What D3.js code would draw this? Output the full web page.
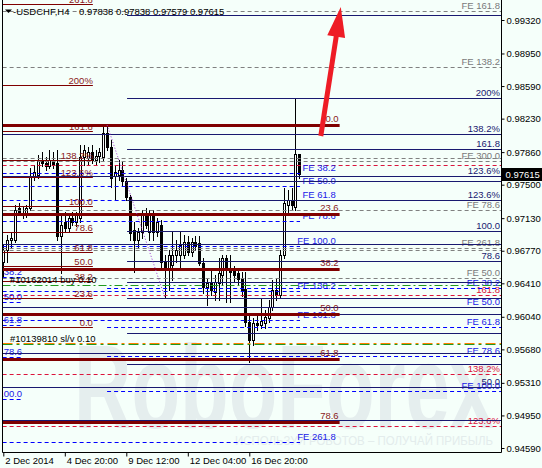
<!DOCTYPE html>
<html><head><meta charset="utf-8">
<script src="https://cdn.jsdelivr.net/npm/d3@7"></script>
<style>
body{margin:0;background:#F5FFFA;}
svg text{font-family:"Liberation Sans",Arial,sans-serif;font-size:9.5px;}
</style></head>
<body><svg id="c" width="542" height="468"></svg>
<script>
// ---------------- DATA ----------------
const symbolTitle = "-USDCHF,H4";
const titleValues = "0.97838 0.97838 0.97579 0.97615";
const lastPrice = 0.97615;
const yTicks = [0.99320,0.98950,0.98590,0.98230,0.97860,0.97500,0.97130,0.96770,0.96410,0.96040,0.95680,0.95310,0.94950,0.94590];
const xTickBars = [0,16,32,48,64];
const xTickLabels = ["2 Dec 2014","4 Dec 20:00","9 Dec 12:00","12 Dec 04:00","16 Dec 20:00"];

const opens = [0.96645,0.96778,0.96889,0.96889,0.97242,0.97187,0.97165,0.97242,0.97585,0.97607,
0.97773,0.97740,0.97707,0.97773,0.97740,0.96933,0.97088,0.97021,0.97132,0.97088,
0.97132,0.97806,0.97795,0.97861,0.97773,0.97817,0.97806,0.98071,0.97917,0.97596,
0.97607,0.97662,0.97541,0.97364,0.96999,0.96889,0.96977,0.97165,0.96977,0.97165,
0.96977,0.97055,0.96645,0.96557,0.96612,0.96723,0.96723,0.96723,0.96867,0.96756,
0.96867,0.96856,0.96634,0.96370,0.96414,0.96314,0.96414,0.96502,0.96690,0.96579,
0.96546,0.96524,0.96469,0.96347,0.95983,0.95784,0.95972,0.95949,0.95972,0.96027,
0.96148,0.96336,0.96281,0.96723,0.97276,0.97331,0.97253,0.97838];
const highs = [0.96834,0.96944,0.96977,0.97276,0.97298,0.97264,0.97276,0.97684,0.97718,0.97828,
0.97861,0.97806,0.97883,0.97861,0.97883,0.97165,0.97198,0.97165,0.97198,0.97198,
0.97939,0.97939,0.97917,0.97939,0.97883,0.97906,0.98149,0.98160,0.97994,0.97718,
0.97773,0.97751,0.97574,0.97386,0.97088,0.97021,0.97220,0.97242,0.97220,0.97220,
0.97132,0.97110,0.96723,0.96778,0.96977,0.96889,0.96977,0.96944,0.96933,0.96911,
0.96933,0.96933,0.96690,0.96469,0.96557,0.96502,0.96690,0.96723,0.96723,0.96723,
0.96601,0.96579,0.96535,0.96535,0.96060,0.96027,0.96060,0.96248,0.96115,0.96226,
0.96447,0.96469,0.96778,0.97463,0.97441,0.97463,0.98458,0.97838];
const lows = [0.96469,0.96645,0.96800,0.96867,0.97165,0.97132,0.97143,0.97220,0.97552,0.97574,
0.97707,0.97662,0.97684,0.97684,0.96889,0.96524,0.96977,0.96977,0.97055,0.97044,
0.97088,0.97718,0.97718,0.97740,0.97718,0.97751,0.97773,0.97883,0.97475,0.97331,
0.97552,0.97497,0.97331,0.96889,0.96535,0.96800,0.96911,0.97021,0.96889,0.96889,
0.96933,0.96579,0.96259,0.96336,0.96447,0.96645,0.96579,0.96690,0.96723,0.96712,
0.96778,0.96612,0.96303,0.96171,0.96281,0.96226,0.96226,0.96392,0.96204,0.96204,
0.96425,0.96392,0.96270,0.95938,0.95541,0.95728,0.95894,0.95916,0.95916,0.95983,
0.96115,0.96226,0.96248,0.96690,0.97198,0.97220,0.97220,0.97579];
const closes = [0.96778,0.96889,0.96911,0.97220,0.97187,0.97165,0.97242,0.97596,0.97640,0.97773,
0.97740,0.97707,0.97773,0.97718,0.96933,0.97055,0.97021,0.97132,0.97088,0.97165,
0.97806,0.97883,0.97861,0.97773,0.97817,0.97861,0.98071,0.97917,0.97574,0.97640,
0.97662,0.97541,0.97364,0.96966,0.96889,0.96977,0.97165,0.97055,0.97187,0.96977,
0.97088,0.96645,0.96579,0.96723,0.96723,0.96778,0.96834,0.96867,0.96756,0.96867,
0.96823,0.96634,0.96370,0.96414,0.96336,0.96425,0.96524,0.96690,0.96557,0.96535,
0.96502,0.96458,0.96336,0.95983,0.95784,0.95972,0.95949,0.95994,0.96038,0.96148,
0.96336,0.96281,0.96723,0.97298,0.97331,0.97276,0.97838,0.97615];

// Fibonacci retracement (thick dark red)
const retPrices = [0.98160,0.97176,0.96568,0.96071,0.95574,0.94878];
const retLabels = ["0.0","23.6","38.2","50.0","61.8","78.6"];
const retBars = [-2, 87.5];
// Fibonacci expansion (left, dark red)
const expPrices = [0.99500,0.98602,0.98093,0.97773,0.97585,0.97264,0.96977,0.96756,0.96601,0.96436,0.96248,0.95927];
const expLabels = ["261.8","200%","161.8","138.2%","123.6%","100.0","78.6","61.8","50.0","38.2","23.6","0.0"];
const expBars = [-2, 23.3];
// navy fibo set A
const navyAPrices = [0.98060,0.97596,0.96845,0.96148,0.95640,0.95264,0.94900];
const navyALabels = ["138.2%","123.6%","","","","50.0",""];
const navyABars = [-2, 140];
// navy fibo set B
const navyBPrices = [0.99375,0.98458,0.97894,0.97541,0.97331,0.96988,0.96657,0.96425,0.96248,0.96071,0.95861,0.95518];
const navyBLabels = ["","200%","161.8","","123.6%","100.0","78.6","","","","",""];
const navyBBars = [32.2, 140];
// blue FE set 1
const fe1Prices = [0.97629,0.97486,0.97331,0.97099,0.96823,0.96325,0.96005,0.94657];
const fe1Labels = ["FE 38.2","FE 50.0","FE 61.8","FE 78.6","FE 100.0","FE 138.2","FE 161.8","FE 261.8"];
const fe1Bars = [-2, 77.2, 86.5];
// blue FE set 2
const fe2Prices = [0.96358,0.96148,0.95927,0.95607,0.95220];
const fe2Labels = ["FE 38.2","FE 50.0","FE 61.8","FE 78.6","FE 100.0"];
const fe2Bars = [27, 140];
// blue short set (left edge)
const fe3Prices = [0.96480,0.96204,0.95949,0.95596,0.95132];
const fe3Labels = ["38.2","50.0","61.8","78.6","100.0"];
const fe3Bars = [-2, 4.9];
// gray FE
const grayPrices = [0.99419,0.98801,0.97795,0.97762,0.97220,0.96800,0.96778,0.96469,0.96148];
const grayLabels = ["FE 161.8","FE 138.2","","FE 300.0","FE 78.6","FE 261.8","","FE 50.0",""];
const grayBars = [-2, 140];
// crimson
const redPrices = [0.97718,0.96281,0.95408,0.94833];
const redLabels = ["","161.8","138.2%","123.6%"];
// order lines
const orderPrices = [0.96392,0.95740];
const orderLabels = ["#10162014 buy 0.10","#10139810 sl/v 0.10"];
// zigzag and arrow [bar, price]
const zigzag = [[27,0.98160],[42,0.96259]];
const arrowPts = [[82.6,0.98038],[87.8,0.99464]];

// ---------------- LAYOUT ----------------
const L = 2.5, R = 501.5, B = 452.5;
const svg = d3.select("#c");
const y = d3.scaleLinear().domain([0.9932,0.9459]).range([20,448]);
const x = d3.scaleLinear().domain([0,64]).range([3.3,249.3]);

svg.append("rect").attr("width",542).attr("height",468).attr("fill","#F5FFFA");
svg.append("defs").append("clipPath").attr("id","pc")
  .append("rect").attr("x",3).attr("y",0).attr("width",498).attr("height",452);
const g = svg.append("g").attr("clip-path","url(#pc)");

// watermark
g.append("text").attr("x",74).attr("y",428).attr("font-weight","bold")
  .style("font-size","118px").attr("textLength",420).attr("lengthAdjust","spacingAndGlyphs")
  .attr("fill","#e5eeee").text("RoboForex");
g.append("text").attr("x",235).attr("y",445).style("font-size","12px")
  .attr("textLength",258).attr("lengthAdjust","spacingAndGlyphs")
  .attr("fill","#e3ecec").text("ИСПОЛЬЗУЙ РОБОТОВ – ПОЛУЧАЙ ПРИБЫЛЬ");

// candles
const cg = g.append("g");
closes.forEach((c,i)=>{
  const o=opens[i], h=highs[i], l=lows[i];
  const px=Math.round(x(i));
  const yh=Math.round(y(h)), yl=Math.round(y(l));
  cg.append("line").attr("x1",px+0.5).attr("x2",px+0.5).attr("y1",yh).attr("y2",yl+1)
    .attr("stroke","#000").attr("stroke-width",1);
  const yt=Math.round(y(Math.max(o,c))), yb=Math.round(y(Math.min(o,c)));
  if(c>=o){
    cg.append("rect").attr("x",px-0.5).attr("y",yt+0.5).attr("width",2).attr("height",Math.max(yb-yt,0))
      .attr("fill","#fff").attr("stroke","#000").attr("stroke-width",1);
  } else {
    cg.append("rect").attr("x",px-1).attr("y",yt).attr("width",3).attr("height",Math.max(yb-yt,1)+1)
      .attr("fill","#000");
  }
});

function hline(price,b0,b1,color,dash,w){
  const yy=Math.round(y(price))+0.5;
  g.append("line").attr("x1",x(b0)).attr("x2",x(b1)).attr("y1",yy).attr("y2",yy)
    .attr("stroke",color).attr("stroke-width",w||1).attr("stroke-dasharray",dash||null);
  return yy;
}
function label(txt,px,py,anchor,color){
  if(!txt) return;
  g.append("text").attr("x",px).attr("y",py).attr("text-anchor",anchor).attr("fill",color).text(txt);
}
const navy="#191970", dred="#800000", blue="#0000ff", gray="#808080", crim="#dc143c";
const rightX = R-1.5;

grayPrices.forEach((p,i)=>{const yy=hline(p,grayBars[0],grayBars[1],gray,"4,3"); label(grayLabels[i],rightX,yy-2.5,"end","#7a7a7a");});
redPrices.forEach((p,i)=>{const yy=hline(p,-2,140,crim,"4,3"); label(redLabels[i],rightX,yy-3,"end",crim);});
fe1Prices.forEach((p,i)=>{const yy=hline(p,fe1Bars[0],fe1Bars[1],blue,"4,3"); label(fe1Labels[i],x(fe1Bars[2]),yy-2.5,"end","#2020e8");});
fe2Prices.forEach((p,i)=>{const yy=hline(p,fe2Bars[0],fe2Bars[1],blue,"4,3"); label(fe2Labels[i],rightX,yy-2.5,"end","#2020e8");});
fe3Prices.forEach((p,i)=>{const yy=hline(p,fe3Bars[0],fe3Bars[1],blue,"4,3"); label(fe3Labels[i],x(fe3Bars[1]),yy-2.5,"end","#2020e8");});
navyAPrices.forEach((p,i)=>{const yy=hline(p,navyABars[0],navyABars[1],navy); label(navyALabels[i],rightX,yy-2.5,"end",navy);});
navyBPrices.forEach((p,i)=>{const yy=hline(p,navyBBars[0],navyBBars[1],navy); label(navyBLabels[i],rightX,yy-2.5,"end",navy);});
expPrices.forEach((p,i)=>{const yy=hline(p,expBars[0],expBars[1],dred,null,1.2); label(expLabels[i],x(expBars[1]),yy-2,"end","#8b1a1a");});
retPrices.forEach((p,i)=>{const yy=hline(p,retBars[0],retBars[1],dred,null,3); label(retLabels[i],x(retBars[1])-1,yy-3.5,"end","#8b1a1a");});

// order lines
(function(){
  const y1=Math.round(y(orderPrices[0]))+0.5;
  g.append("line").attr("x1",L).attr("x2",R).attr("y1",y1).attr("y2",y1)
    .attr("stroke","#1f9a1f").attr("stroke-dasharray","8,3,2,3");
  label(orderLabels[0],10,y1-3,"start","#000");
  const y2=Math.round(y(orderPrices[1]))+0.5;
  g.append("line").attr("x1",L).attr("x2",R).attr("y1",y2-1).attr("y2",y2-1)
    .attr("stroke","#ff7f00").attr("stroke-dasharray","10,4,3,4");
  g.append("line").attr("x1",L).attr("x2",R).attr("y1",y2).attr("y2",y2)
    .attr("stroke","#1f9a1f").attr("stroke-dasharray","10,4,3,4");
  label(orderLabels[1],10,y2-3,"start","#000");
})();

// zigzag
g.append("path").attr("d",d3.line().x(d=>x(d[0])).y(d=>y(d[1]))(zigzag))
  .attr("fill","none").attr("stroke","#9932cc").attr("stroke-dasharray","1,2");

// red arrow
(function(){
  const sx=x(arrowPts[0][0]), sy=y(arrowPts[0][1]), tx=x(arrowPts[1][0]), ty=y(arrowPts[1][1]);
  const dx=tx-sx, dy=ty-sy, len=Math.hypot(dx,dy), ux=dx/len, uy=dy/len;
  const hl=30, hw=9;
  const bx=tx-ux*hl, by=ty-uy*hl;
  svg.append("line").attr("x1",sx).attr("y1",sy).attr("x2",bx+ux*2).attr("y2",by+uy*2)
    .attr("stroke","#ee1c25").attr("stroke-width",5);
  svg.append("path").attr("d",`M${tx},${ty}L${bx-uy*hw},${by+ux*hw}L${bx+uy*hw},${by-ux*hw}Z`)
    .attr("fill","#ee1c25");
})();

// frame
svg.append("path").attr("d",`M${L},0V${B}H${R}V0`).attr("fill","none").attr("stroke","#000");

// y axis
const ya = svg.append("g").attr("transform",`translate(${R},0)`)
  .call(d3.axisRight(y).tickValues(yTicks).tickSize(3).tickPadding(2).tickFormat(d3.format(".5f")));
ya.select(".domain").remove();
ya.selectAll("text").attr("fill","#000").style("font-size","9.5px").style("font-family","'Liberation Sans',Arial,sans-serif");
ya.selectAll("line").attr("stroke","#000");

// x axis
const xa = svg.append("g").attr("transform",`translate(0,${B})`)
  .call(d3.axisBottom(x).tickValues(xTickBars).tickSize(4).tickPadding(1).tickFormat((d,i)=>xTickLabels[i]));
xa.select(".domain").remove();
xa.selectAll("text").attr("text-anchor","start").attr("x",1.5).attr("fill","#000")
  .style("font-size","9.5px").style("font-family","'Liberation Sans',Arial,sans-serif");
xa.selectAll("line").attr("stroke","#000");

// last price tag
const ly=y(lastPrice);
svg.append("rect").attr("x",R).attr("y",Math.round(ly)-6).attr("width",542-R).attr("height",13).attr("fill","#000");
svg.append("text").attr("x",R+4).attr("y",Math.round(ly)+3.5).attr("fill","#fff").text(d3.format(".5f")(lastPrice));

// title
svg.append("path").attr("d","M5,9.5L12,9.5L8.5,13Z").attr("fill","#000");
svg.append("text").attr("x",13).attr("y",14.5).attr("fill","#000").text(symbolTitle);
svg.append("text").attr("x",79).attr("y",14.5).attr("fill","#000").text(titleValues);
</script></body></html>
